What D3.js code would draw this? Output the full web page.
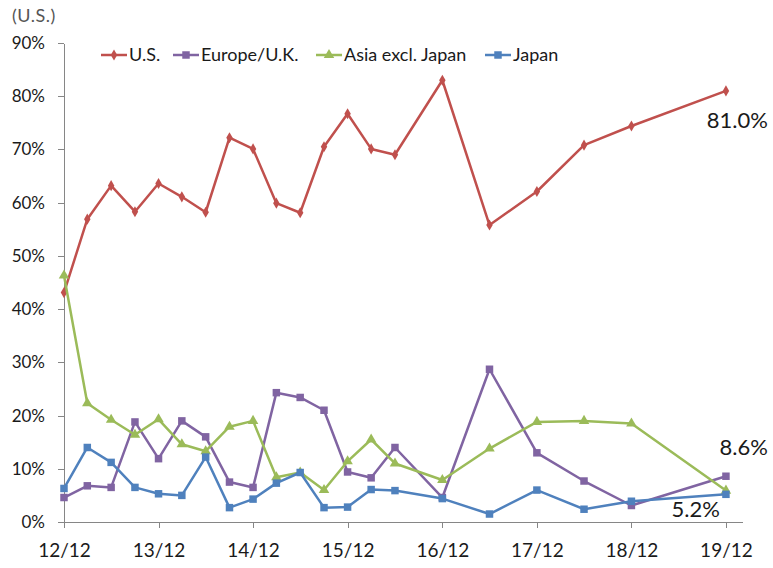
<!DOCTYPE html>
<meta charset="utf-8">
<head>
    <title>Share by region</title>
    <script src="https://d3js.org/d3.v7.min.js"></script>
    <style>
        body { margin: 0; background: #fff; }
        text { font-family: Lato, "Noto Sans", sans-serif; fill: #1a1a1a; }
        .axis path, .axis line { stroke: #868686; stroke-width: 1; shape-rendering: crispEdges; }
    </style>
</head>
<body>
<script>
    // quarter / half-year end dates (yy-mm)
    var dates = ["12-12", "13-03", "13-06", "13-09", "13-12", "14-03", "14-06", "14-09",
        "14-12", "15-03", "15-06", "15-09", "15-12", "16-03", "16-06", "16-12",
        "17-06", "17-12", "18-06", "18-12", "19-12"];

    var us = [43.1, 56.9, 63.2, 58.3, 63.6, 61.1, 58.2, 72.2, 70.1, 59.9, 58.1, 70.5,
        76.7, 70.1, 69.0, 83.0, 55.8, 62.1, 70.8, 74.4, 81.0];
    var europe = [4.6, 6.8, 6.5, 18.8, 11.9, 19.0, 16.0, 7.5, 6.5, 24.3, 23.4, 21.0,
        9.4, 8.3, 14.0, 4.6, 28.7, 13.0, 7.7, 3.1, 8.6];
    var asia = [46.3, 22.3, 19.2, 16.4, 19.3, 14.6, 13.3, 17.9, 19.0, 8.4, 9.3, 6.0,
        11.4, 15.5, 11.0, 7.9, 13.8, 18.8, 19.0, 18.5, 5.9];
    var japan = [6.3, 14.0, 11.2, 6.5, 5.3, 5.0, 12.2, 2.7, 4.3, 7.3, 9.3, 2.7,
        2.8, 6.1, 5.9, 4.4, 1.5, 6.0, 2.4, 3.9, 5.2];

    var seriesNames = ["U.S.", "Europe/U.K.", "Asia excl. Japan", "Japan"];
    var seriesColors = ["#C0504D", "#8064A2", "#9BBB59", "#4F81BD"];
    var seriesMarkers = ["diamond", "square", "triangle", "square"];
    var xTickLabels = ["12/12", "13/12", "14/12", "15/12", "16/12", "17/12", "18/12", "19/12"];
    var yTicks = [0, 10, 20, 30, 40, 50, 60, 70, 80, 90];

    var width = 773,
        height = 568;

    var parse = d3.timeParse("%y-%m");
    var parseTick = d3.timeParse("%y/%m");

    var svg = d3.select("body").append("svg")
        .attr("width", width)
        .attr("height", height);

    var x = d3.scaleTime()
        .domain([parse("12-12"), parse("20-02")])
        .range([64, 742]);

    var y = d3.scaleLinear()
        .domain([0, 90])
        .range([522, 43]);

    // axes
    svg.append("g")
        .attr("class", "axis")
        .attr("transform", "translate(64,0)")
        .call(d3.axisLeft(y).tickValues(yTicks).tickSize(6).tickSizeOuter(0).tickPadding(13)
            .tickFormat(function (d) { return d + "%"; }))
        .selectAll("text")
        .style("font-size", "17px");

    svg.append("g")
        .attr("class", "axis")
        .attr("transform", "translate(0,522)")
        .call(d3.axisBottom(x).tickValues(xTickLabels.map(parseTick)).tickSize(6).tickSizeOuter(0)
            .tickPadding(16).tickFormat(d3.timeFormat("%y/%m")))
        .selectAll("text")
        .style("font-size", "19px");

    svg.selectAll(".axis text").attr("fill", "#1a1a1a");

    svg.append("text")
        .attr("x", 12)
        .attr("y", 22)
        .style("font-size", "18px")
        .style("letter-spacing", "0.5px")
        .style("fill", "#555")
        .text("(U.S.)");

    var symbolFor = {
        diamond: d3.symbol().type(d3.symbolDiamond).size(36),
        square: d3.symbol().type(d3.symbolSquare).size(56),
        triangle: d3.symbol().type(d3.symbolTriangle).size(48)
    };

    var allSeries = [us, europe, asia, japan];

    var line = d3.line()
        .x(function (d) { return x(d.date); })
        .y(function (d) { return y(d.value); });

    allSeries.forEach(function (vals, i) {
        var pts = vals.map(function (v, j) { return { date: parse(dates[j]), value: v }; });
        var g = svg.append("g");
        g.append("path")
            .datum(pts)
            .attr("fill", "none")
            .attr("stroke", seriesColors[i])
            .attr("stroke-width", 2.5)
            .attr("stroke-linejoin", "round")
            .attr("d", line);
        g.selectAll("path.marker")
            .data(pts)
            .enter().append("path")
            .attr("class", "marker")
            .attr("d", symbolFor[seriesMarkers[i]])
            .attr("fill", seriesColors[i])
            .attr("transform", function (d) { return "translate(" + x(d.date) + "," + y(d.value) + ")"; });
    });

    // end-of-series value labels
    var last = parse(dates[dates.length - 1]);
    var endLabels = [
        { text: "81.0%", value: us[us.length - 1], dx: 42, dy: 37 },
        { text: "8.6%", value: europe[europe.length - 1], dx: 42, dy: -21 },
        { text: "5.2%", value: japan[japan.length - 1], dx: -6, dy: 23 }
    ];
    svg.selectAll("text.endlabel")
        .data(endLabels)
        .enter().append("text")
        .attr("class", "endlabel")
        .attr("text-anchor", "end")
        .attr("x", function (d) { return x(last) + d.dx; })
        .attr("y", function (d) { return y(d.value) + d.dy; })
        .style("font-size", "22px")
        .text(function (d) { return d.text; });

    // legend
    var legendX = [101, 173, 316, 485];
    var legend = svg.append("g");
    seriesNames.forEach(function (name, i) {
        var item = legend.append("g").attr("transform", "translate(" + legendX[i] + ",55)");
        item.append("line")
            .attr("x1", 0).attr("x2", 26)
            .attr("stroke", seriesColors[i])
            .attr("stroke-width", 2.5);
        item.append("path")
            .attr("d", symbolFor[seriesMarkers[i]])
            .attr("fill", seriesColors[i])
            .attr("transform", "translate(13,0)");
        item.append("text")
            .attr("x", 28)
            .attr("y", 6)
            .style("font-size", "18px")
            .text(name);
    });
</script>
</body>
</html>
